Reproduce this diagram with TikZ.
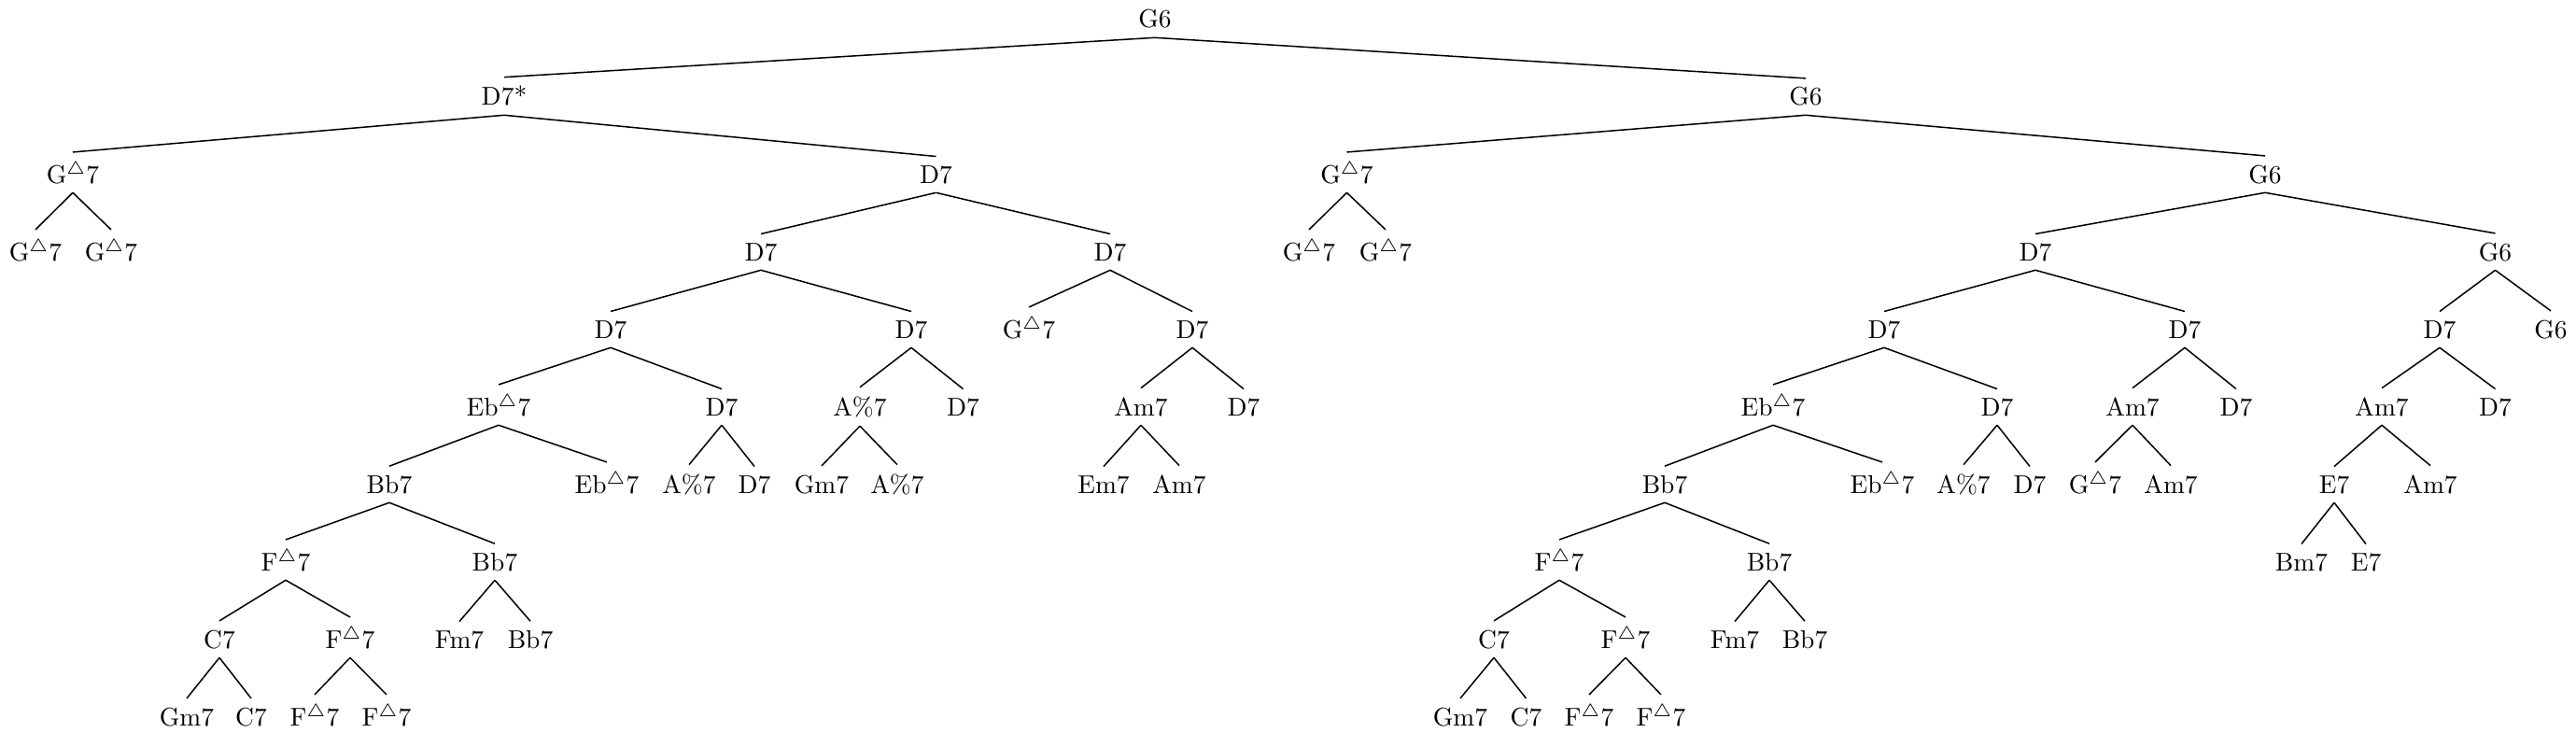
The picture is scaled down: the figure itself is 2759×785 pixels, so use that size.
\documentclass[tikz,border=0pt]{standalone}
\newcommand\Mj{$^{\triangle}$}
\tikzset{
  nd/.style={anchor=base, inner sep=3.33pt},
  edge/.style={line width=0.55pt, black}
}
\newcommand\nd[4]{\node[nd] (#1) at (#2,{30+83*#3}) {#4};}
\begin{document}
\begin{tikzpicture}[x=0.3636pt, y=-0.3636pt]
\useasboundingbox (0,0) rectangle (2759,785);
\nd{r}{1237}{0}{G6}
\nd{a}{540}{1}{D7*}
\nd{b}{1934}{1}{G6}
\nd{a1}{78}{2}{G\Mj7}
\nd{a2}{1002.5}{2}{D7}
\nd{a11}{38}{3}{G\Mj7}
\nd{a12}{119}{3}{G\Mj7}
\nd{a21}{815}{3}{D7}
\nd{a22}{1189}{3}{D7}
\nd{a211}{654}{4}{D7}
\nd{a212}{976}{4}{D7}
\nd{a2111}{534}{5}{Eb\Mj7}
\nd{a2112}{773}{5}{D7}
\nd{a21111}{417}{6}{Bb7}
\nd{a21112}{650}{6}{Eb\Mj7}
\nd{a211111}{306}{7}{F\Mj7}
\nd{a211112}{530}{7}{Bb7}
\nd{a2111111}{235}{8}{C7}
\nd{a2111112}{375}{8}{F\Mj7}
\nd{a21111111}{200}{9}{Gm7}
\nd{a21111112}{269}{9}{C7}
\nd{a21111121}{337}{9}{F\Mj7}
\nd{a21111122}{414}{9}{F\Mj7}
\nd{a2111121}{492}{8}{Fm7}
\nd{a2111122}{568}{8}{Bb7}
\nd{a21121}{738}{6}{A\%7}
\nd{a21122}{808}{6}{D7}
\nd{a2121}{921}{5}{A\%7}
\nd{a2122}{1031.5}{5}{D7}
\nd{a21211}{880}{6}{Gm7}
\nd{a21212}{961}{6}{A\%7}
\nd{a221}{1102}{4}{G\Mj7}
\nd{a222}{1277}{4}{D7}
\nd{a2221}{1222}{5}{Am7}
\nd{a2222}{1332}{5}{D7}
\nd{a22211}{1182}{6}{Em7}
\nd{a22212}{1263}{6}{Am7}
\nd{b1}{1442.5}{2}{G\Mj7}
\nd{b2}{2426}{2}{G6}
\nd{b11}{1402}{3}{G\Mj7}
\nd{b12}{1484}{3}{G\Mj7}
\nd{b21}{2180}{3}{D7}
\nd{b22}{2672.5}{3}{G6}
\nd{b211}{2018}{4}{D7}
\nd{b212}{2340}{4}{D7}
\nd{b2111}{1899}{5}{Eb\Mj7}
\nd{b2112}{2139}{5}{D7}
\nd{b21111}{1783}{6}{Bb7}
\nd{b21112}{2016}{6}{Eb\Mj7}
\nd{b211111}{1670}{7}{F\Mj7}
\nd{b211112}{1895}{7}{Bb7}
\nd{b2111111}{1600}{8}{C7}
\nd{b2111112}{1741}{8}{F\Mj7}
\nd{b21111111}{1564}{9}{Gm7}
\nd{b21111112}{1634.5}{9}{C7}
\nd{b21111121}{1702}{9}{F\Mj7}
\nd{b21111122}{1779}{9}{F\Mj7}
\nd{b2111121}{1858}{8}{Fm7}
\nd{b2111122}{1933}{8}{Bb7}
\nd{b21121}{2103}{6}{A\%7}
\nd{b21122}{2174}{6}{D7}
\nd{b2121}{2284}{5}{Am7}
\nd{b2122}{2395}{5}{D7}
\nd{b21211}{2244}{6}{G\Mj7}
\nd{b21212}{2325}{6}{Am7}
\nd{b221}{2613}{4}{D7}
\nd{b222}{2732}{4}{G6}
\nd{b2211}{2551}{5}{Am7}
\nd{b2212}{2672.5}{5}{D7}
\nd{b22111}{2500}{6}{E7}
\nd{b22112}{2603}{6}{Am7}
\nd{b221111}{2465}{7}{Bm7}
\nd{b221112}{2534}{7}{E7}
\foreach \p/\c in {r/a, r/b,
  a/a1, a/a2, a1/a11, a1/a12, a2/a21, a2/a22,
  a21/a211, a21/a212, a211/a2111, a211/a2112,
  a2111/a21111, a2111/a21112, a21111/a211111, a21111/a211112,
  a211111/a2111111, a211111/a2111112,
  a2111111/a21111111, a2111111/a21111112,
  a2111112/a21111121, a2111112/a21111122,
  a211112/a2111121, a211112/a2111122,
  a2112/a21121, a2112/a21122,
  a212/a2121, a212/a2122, a2121/a21211, a2121/a21212,
  a22/a221, a22/a222, a222/a2221, a222/a2222, a2221/a22211, a2221/a22212,
  b/b1, b/b2, b1/b11, b1/b12, b2/b21, b2/b22,
  b21/b211, b21/b212, b211/b2111, b211/b2112,
  b2111/b21111, b2111/b21112, b21111/b211111, b21111/b211112,
  b211111/b2111111, b211111/b2111112,
  b2111111/b21111111, b2111111/b21111112,
  b2111112/b21111121, b2111112/b21111122,
  b211112/b2111121, b211112/b2111122,
  b2112/b21121, b2112/b21122,
  b212/b2121, b212/b2122, b2121/b21211, b2121/b21212,
  b22/b221, b22/b222, b221/b2211, b221/b2212,
  b2211/b22111, b2211/b22112, b22111/b221111, b22111/b221112}
  \draw[edge] (\p.south) -- (\c.north);
\end{tikzpicture}
\end{document}
